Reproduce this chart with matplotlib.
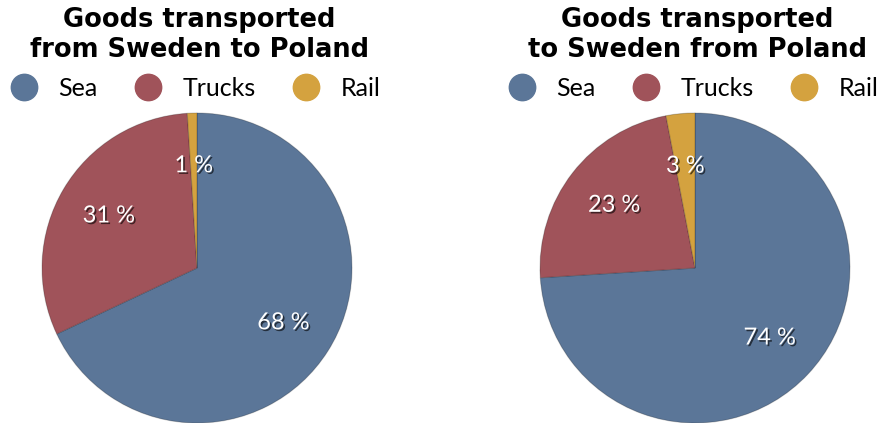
import matplotlib.pyplot as plt
import matplotlib.patheffects as pe
from matplotlib.lines import Line2D

modes = ["Sea", "Trucks", "Rail"]
colors = ["#5b7698", "#a0535a", "#d4a23f"]

titles = ["Goods transported\nfrom Sweden to Poland",
          "Goods transported\nto Sweden from Poland"]
sweden_to_poland = [68, 31, 1]
poland_to_sweden = [74, 23, 3]

W, H = 883, 423
fig = plt.figure(figsize=(W / 100, H / 100), dpi=100)
fig.patch.set_facecolor("white")
plt.rcParams["font.family"] = ["Lato", "DejaVu Sans"]

panels = [(42, 197, sweden_to_poland, titles[0]),
          (540, 695, poland_to_sweden, titles[1])]

for left, cx, vals, title in panels:
    ax = fig.add_axes([left / W, 0, 310 / W, 310 / H])
    wedges, texts = ax.pie(vals, colors=colors, startangle=90, counterclock=False,
                           labels=[f"{v} %" for v in vals], labeldistance=0.66,
                           wedgeprops=dict(edgecolor="#00000030", linewidth=0.8))
    for w in wedges:
        w.set_path_effects([pe.SimplePatchShadow(offset=(0, 0), shadow_rgbFace="#999999", alpha=0.3), pe.Normal()])
    for t in texts:
        t.set_color("white")
        t.set_fontsize(17)
        t.set_ha("center")
        t.set_va("center")
        t.set_path_effects([pe.withSimplePatchShadow(offset=(1.2, -1.2), shadow_rgbFace="black", alpha=0.6)])
    ax.set_xlim(-1, 1)
    ax.set_ylim(-1, 1)
    ax.set_aspect("equal")
    ax.axis("off")

    fig.text((cx + 2) / W, 1 - 35 / H, title, ha="center", va="center",
             fontsize=18.5, fontweight="bold", family="DejaVu Sans", linespacing=1.24)

    handles = [Line2D([], [], marker="o", linestyle="", markersize=19,
                      markerfacecolor=c, markeredgecolor=c) for c in colors]
    fig.legend(handles, modes, loc="center", bbox_to_anchor=((cx - 1) / W, 1 - 88 / H),
               ncol=3, frameon=False, fontsize=18, handletextpad=0.9,
               columnspacing=1.5, handlelength=1.0, borderpad=0)

fig.savefig("out.png", dpi=100, facecolor="white")
